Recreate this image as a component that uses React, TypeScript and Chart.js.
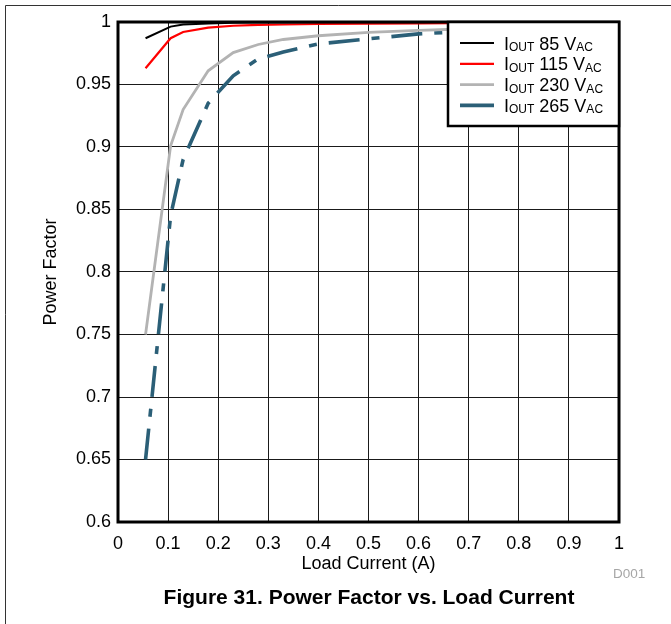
import React, { useEffect, useRef } from 'react';
import { Chart, registerables } from 'chart.js';

Chart.register(...registerables);

// Load current (A) sample points
const loadCurrent = [0.055, 0.105, 0.13, 0.18, 0.23, 0.28, 0.33, 0.4, 0.5, 0.6, 0.67, 0.8, 1.0];
// Power factor per input voltage
const pf85 = [0.987, 0.9963, 0.998, 0.9988, 0.9993, 0.9995, 0.9996, 0.9997, 0.9998, 0.9998, 0.9999, 0.9999, 1.0];
const pf115 = [0.963, 0.987, 0.992, 0.9955, 0.997, 0.9977, 0.998, 0.9984, 0.9986, 0.9988, 0.999, 0.9992, 0.9994];
const pf230 = [0.75, 0.901, 0.93, 0.961, 0.9755, 0.982, 0.986, 0.989, 0.9917, 0.9933, 0.9942, 0.9955, 0.997];
const pf265 = [0.65, 0.845, 0.89, 0.935, 0.957, 0.9705, 0.976, 0.9825, 0.9865, 0.9905, 0.992, 0.9935, 0.995];

const voltages = ['85', '115', '230', '265'];
const seriesValues = [pf85, pf115, pf230, pf265];
const seriesColors = ['#000000', '#ff0000', '#b3b3b3', '#2b5f77'];
const seriesWidths = [2, 2.2, 2.8, 3.6];
const seriesDash = [[], [], [], [31, 12, 8, 12]];

const xAxisTitle = 'Load Current (A)';
const yAxisTitle = 'Power Factor';
const figureTitle = 'Figure 31. Power Factor vs. Load Current';
const figureId = 'D001';

const FONT = "'Liberation Sans', Arial, Helvetica, sans-serif";

const fmt = (v: number) => String(Number(v.toFixed(2)));

const decorPlugin = {
  id: 'decor',
  afterDraw(chart: any) {
    const ctx = chart.ctx as CanvasRenderingContext2D;
    const a = chart.chartArea;
    ctx.save();

    // figure outline (top + left)
    ctx.strokeStyle = '#333';
    ctx.lineWidth = 1;
    ctx.beginPath();
    ctx.moveTo(5.5, 624);
    ctx.lineTo(5.5, 5.5);
    ctx.lineTo(671, 5.5);
    ctx.stroke();

    // plot frame
    ctx.strokeStyle = '#000';
    ctx.lineWidth = 3;
    ctx.strokeRect(a.left, a.top, a.right - a.left, a.bottom - a.top);

    // axis titles
    ctx.fillStyle = '#000';
    ctx.font = `18px ${FONT}`;
    ctx.textAlign = 'center';
    ctx.textBaseline = 'middle';
    ctx.fillText(xAxisTitle, (a.left + a.right) / 2, 564);
    ctx.save();
    ctx.translate(51, (a.top + a.bottom) / 2);
    ctx.rotate(-Math.PI / 2);
    ctx.fillText(yAxisTitle, 0, 0);
    ctx.restore();

    // D001
    ctx.fillStyle = '#a6a6a6';
    ctx.font = `13.5px ${FONT}`;
    ctx.textAlign = 'left';
    ctx.fillText(figureId, 613, 574);

    // figure title
    ctx.fillStyle = '#000';
    ctx.font = `bold 21px ${FONT}`;
    ctx.textAlign = 'center';
    ctx.fillText(figureTitle, 369, 598);

    // legend
    const lx = 448;
    const ly = a.top;
    const lw = a.right - lx;
    const lh = 104;
    ctx.fillStyle = '#fff';
    ctx.fillRect(lx, ly, lw, lh);
    ctx.strokeStyle = '#000';
    ctx.lineWidth = 2.5;
    ctx.strokeRect(lx, ly, lw, lh);
    ctx.textAlign = 'left';
    ctx.textBaseline = 'alphabetic';
    voltages.forEach((v, i) => {
      const y = 43 + i * 20.8;
      ctx.strokeStyle = seriesColors[i];
      ctx.lineWidth = seriesWidths[i];
      ctx.setLineDash([]);
      ctx.beginPath();
      ctx.moveTo(460, y);
      ctx.lineTo(494, y);
      ctx.stroke();
      const base = y + 6.5;
      let x = 504;
      ctx.fillStyle = '#000';
      ctx.font = `18px ${FONT}`;
      ctx.fillText('I', x, base);
      x += ctx.measureText('I').width;
      ctx.font = `12px ${FONT}`;
      ctx.fillText('OUT', x, base + 1.5);
      x += ctx.measureText('OUT').width;
      ctx.font = `18px ${FONT}`;
      const mid = ` ${v} V`;
      ctx.fillText(mid, x, base);
      x += ctx.measureText(mid).width;
      ctx.font = `12px ${FONT}`;
      ctx.fillText('AC', x, base + 1.5);
    });
    ctx.restore();
  },
};

export default function App() {
  const ref = useRef<HTMLCanvasElement | null>(null);
  useEffect(() => {
    if (!ref.current) return;
    const chart = new Chart(ref.current, {
      type: 'line',
      data: {
        datasets: voltages.map((v, i) => ({
          label: `IOUT ${v} VAC`,
          data: loadCurrent.map((x, j) => ({ x, y: seriesValues[i][j] })),
          borderColor: seriesColors[i],
          backgroundColor: seriesColors[i],
          borderWidth: seriesWidths[i],
          borderDash: seriesDash[i],
          pointRadius: 0,
          tension: 0,
          fill: false,
        })),
      },
      options: {
        animation: false,
        responsive: true,
        maintainAspectRatio: false,
        layout: { padding: { left: 0, right: 52, top: 22, bottom: 0 } },
        plugins: {
          legend: { display: false },
          title: { display: false },
          tooltip: { enabled: false },
        },
        scales: {
          x: {
            type: 'linear',
            min: 0,
            max: 1,
            afterFit: (s: any) => { s.height = 102; },
            ticks: {
              stepSize: 0.1,
              padding: 11,
              color: '#000',
              font: { family: FONT, size: 18 },
              maxRotation: 0,
              callback: (v: any) => fmt(Number(v)),
            },
            grid: { color: '#1a1a1a', lineWidth: 1, drawTicks: false },
            border: { display: false },
          },
          y: {
            type: 'linear',
            min: 0.6,
            max: 1,
            afterFit: (s: any) => { s.width = 118; },
            ticks: {
              stepSize: 0.05,
              padding: 7,
              color: '#000',
              font: { family: FONT, size: 18 },
              callback: (v: any) => fmt(Number(v)),
            },
            grid: { color: '#1a1a1a', lineWidth: 1, drawTicks: false },
            border: { display: false },
          },
        },
      },
      plugins: [decorPlugin],
    });
    return () => chart.destroy();
  }, []);
  return (
    <div style={{ position: 'fixed', left: 0, top: 0, width: 671, height: 624, background: '#fff' }}>
      <canvas ref={ref} />
    </div>
  );
}
